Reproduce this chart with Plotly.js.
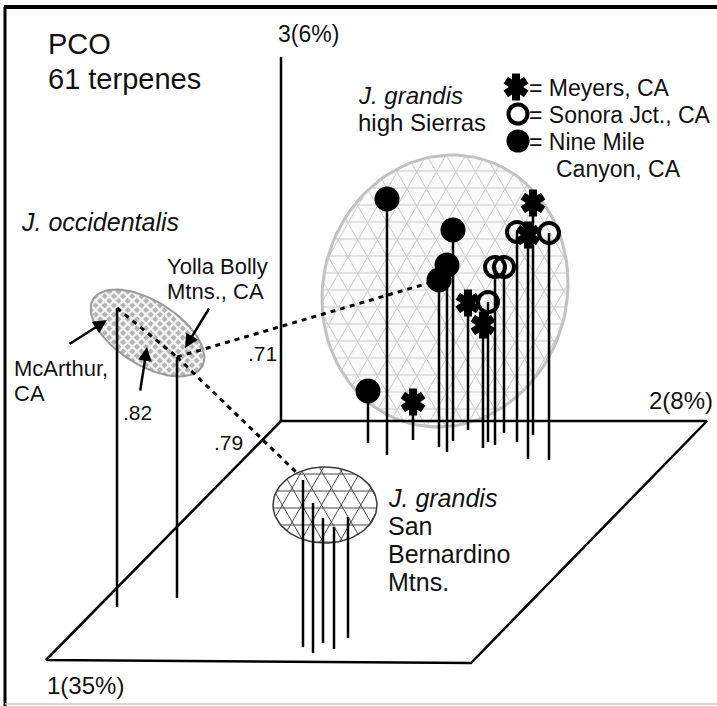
<!DOCTYPE html>
<html><head><meta charset="utf-8">
<script src="https://cdn.plot.ly/plotly-3.0.1.min.js"></script>
<style>html,body{margin:0;padding:0;background:#fff;}#chart{width:717px;height:706px;}</style>
</head><body><div id="chart"></div>
<script>
// ---------- DATA (projected positions of PCO scores) ----------
// J. grandis, high Sierras
const nineMileX    = [387, 453, 447, 439, 368];
const nineMileTop  = [199, 230, 265, 280, 391];
const nineMileBase = [455, 441, 452, 447, 443];
const meyersX      = [413, 468, 483, 533, 528];
const meyersTop    = [402, 303, 325, 203, 235];
const meyersBase   = [440, 430, 448, 435, 459];
const sonoraX      = [488, 495, 504, 517, 549];
const sonoraTop    = [302, 267, 267, 232, 233];
const sonoraBase   = [442, 445, 433, 442, 460];
// J. occidentalis (McArthur, Yolla Bolly)
const occX    = [117, 177];
const occTop  = [308, 357];
const occBase = [607, 598];
// J. grandis, San Bernardino Mtns.
const sbX    = [303, 313, 323, 334, 348];
const sbTop  = [480, 503, 518, 527, 517];
const sbBase = [647, 653, 643, 649, 638];
// similarity links between groups
const linkLabels = ['.82', '.71', '.79'];
const linkX0 = [117, 177, 177];
const linkY0 = [308, 357, 357];
const linkX1 = [177, 439, 296];
const linkY1 = [357, 280, 472];
// axis labels
const axisLabels = ['1(35%)', '2(8%)', '3(6%)'];
const legendLabels = ['= Meyers, CA', '= Sonora Jct., CA', '= Nine Mile', 'Canyon, CA'];

// ---------- helpers ----------
const FONT = 'Liberation Sans, Arial, Helvetica, sans-serif';
function ellPts(cx, cy, a, b, rotDeg) {
  const r = rotDeg * Math.PI / 180, cr = Math.cos(r), sr = Math.sin(r);
  const xs = [], ys = [];
  for (let i = 0; i <= 96; i++) {
    const p = i / 96 * 2 * Math.PI;
    const u = a * Math.cos(p), v = b * Math.sin(p);
    xs.push(cx + u * cr - v * sr); ys.push(cy + u * sr + v * cr);
  }
  return {xs, ys};
}
function chords(cx, cy, a, b, rotDeg, spacing, angles, offset) {
  const r = rotDeg * Math.PI / 180, cr = Math.cos(r), sr = Math.sin(r);
  const xs = [], ys = [];
  const R = Math.max(a, b) + spacing;
  angles.forEach(angDeg => {
    const t = angDeg * Math.PI / 180;
    const ux = Math.cos(t), uy = Math.sin(t);
    const nx = -uy, ny = ux;
    for (let d = -R + (offset || 0); d <= R; d += spacing) {
      const px = cx + nx * d, py = cy + ny * d;
      const lx0 = ((px - cx) * cr + (py - cy) * sr) / a, ly0 = (-(px - cx) * sr + (py - cy) * cr) / b;
      const lux = (ux * cr + uy * sr) / a, luy = (-ux * sr + uy * cr) / b;
      const A = lux * lux + luy * luy, B = 2 * (lx0 * lux + ly0 * luy), C = lx0 * lx0 + ly0 * ly0 - 1;
      const disc = B * B - 4 * A * C;
      if (disc <= 0) continue;
      const s = Math.sqrt(disc);
      const t1 = (-B - s) / (2 * A), t2 = (-B + s) / (2 * A);
      xs.push(px + ux * t1, px + ux * t2, null); ys.push(py + uy * t1, py + uy * t2, null);
    }
  });
  return {xs, ys};
}
function sticks(xArr, topArr, baseArr) {
  const xs = [], ys = [];
  xArr.forEach((x, i) => { xs.push(x, x, null); ys.push(topArr[i], baseArr[i], null); });
  return {xs, ys};
}
function line(xs, ys, color, width, dash) {
  return {type: 'scatter', mode: 'lines', x: xs, y: ys, hoverinfo: 'skip',
          line: {color: color, width: width, dash: dash || 'solid'}, showlegend: false};
}
function fillT(p, color) {
  return {type: 'scatter', mode: 'lines', x: p.xs, y: p.ys, fill: 'toself', fillcolor: color,
          line: {width: 0, color: color}, hoverinfo: 'skip', showlegend: false};
}

const traces = [];
// high Sierras ellipse
const hsE = ellPts(445, 291, 137, 122, -75);
traces.push(fillT(hsE, '#fafafa'));
const hsM = chords(445, 291, 137, 122, -75, 17, [0, 60, 120]);
traces.push(line(hsM.xs, hsM.ys, '#cbcbcb', 1));
traces.push(line(hsE.xs, hsE.ys, '#c2c2c2', 3));
// occidentalis ellipse
const ocE = ellPts(147.5, 333, 64, 32, 32);
traces.push(fillT(ocE, '#b5b5b5'));
const ocM = chords(147.5, 333, 64, 32, 32, 6.5, [45, 135]);
traces.push(line(ocM.xs, ocM.ys, '#f4f4f4', 2.2));
traces.push(line(ocE.xs, ocE.ys, '#9a9a9a', 2));
// San Bernardino ellipse
const sbE = ellPts(325, 505, 52, 38, 0);
traces.push(fillT(sbE, '#ffffff'));
const sbM = chords(325, 505, 52, 38, 0, 17, [0, 60, 120], 4);
traces.push(line(sbM.xs, sbM.ys, '#4a4a4a', 1));
traces.push(line(sbE.xs, sbE.ys, '#3a3a3a', 1.5));

// floor parallelogram and vertical axis
traces.push(line([281, 707, 471, 46, 281], [421, 421, 663, 660, 421], '#000', 2.5));
traces.push(line([281, 281], [57, 421], '#000', 2.5));

// sticks
[[nineMileX, nineMileTop, nineMileBase], [meyersX, meyersTop, meyersBase],
 [sonoraX, sonoraTop, sonoraBase], [occX, occTop, occBase], [sbX, sbTop, sbBase]].forEach(g => {
  const s = sticks(g[0], g[1], g[2]);
  traces.push(line(s.xs, s.ys, '#000', 2.5));
});

// similarity links (dashed)
linkX0.forEach((x0, i) => {
  traces.push(line([x0, linkX1[i]], [linkY0[i], linkY1[i]], '#000', 3, '5px,5px'));
});

// markers
function starTraces(xs, ys, sz) {
  return ['y-up', 'y-down'].map(sym => ({type: 'scatter', mode: 'markers', x: xs, y: ys, hoverinfo: 'skip', showlegend: false,
    marker: {symbol: sym, size: sz, color: '#000', line: {color: '#000', width: 8}}}));
}
starTraces(meyersX, meyersTop, 17).forEach(t => traces.push(t));
traces.push({type: 'scatter', mode: 'markers', x: sonoraX, y: sonoraTop, hoverinfo: 'skip', showlegend: false,
  marker: {symbol: 'circle-open', size: 20, color: '#000', line: {color: '#000', width: 4}}});
traces.push({type: 'scatter', mode: 'markers', x: nineMileX, y: nineMileTop, hoverinfo: 'skip', showlegend: false,
  marker: {symbol: 'circle', size: 25, color: '#000', line: {width: 0}}});

// legend symbols
starTraces([516], [87], 17).forEach(t => traces.push(t));
traces.push({type: 'scatter', mode: 'markers', x: [518], y: [114], hoverinfo: 'skip', showlegend: false,
  marker: {symbol: 'circle-open', size: 19, color: '#000', line: {color: '#000', width: 4}}});
traces.push({type: 'scatter', mode: 'markers', x: [518], y: [141], hoverinfo: 'skip', showlegend: false,
  marker: {symbol: 'circle', size: 23, color: '#000', line: {width: 0}}});

// frame
traces.push(line([5, 5], [706, 7], '#000', 3));
traces.push(line([4, 717], [7, 7], '#000', 4));
traces.push(line([5, 717], [704, 704], '#c8c8c8', 1.5));

// ---------- text ----------
function txt(x, y, text, size, extra) {
  return Object.assign({x: x, y: y, xref: 'x', yref: 'y', text: text, showarrow: false,
    xanchor: 'left', yanchor: 'middle', font: {family: FONT, size: size, color: '#111'}}, extra || {});
}
function arrow(x, y, ax, ay) {
  return {x: x, y: y, ax: ax, ay: ay, xref: 'x', yref: 'y', axref: 'x', ayref: 'y', text: '',
    showarrow: true, arrowhead: 2, arrowsize: 1.1, arrowwidth: 2.5, arrowcolor: '#000', standoff: 0};
}
const ann = [
  txt(46, 44, 'PCO', 29),
  txt(46, 79, '61 terpenes', 29),
  txt(276, 34, axisLabels[2], 23),
  txt(715, 400, axisLabels[1], 24, {xanchor: 'right'}),
  txt(45, 685, axisLabels[0], 24),
  txt(356, 95, '<i>J. grandis</i>', 24),
  txt(356, 122, 'high Sierras', 24),
  txt(527, 88, legendLabels[0], 23),
  txt(527, 115, legendLabels[1], 23),
  txt(527, 142, legendLabels[2], 23),
  txt(554, 169, legendLabels[3], 23),
  txt(19, 222, '<i>J. occidentalis</i>', 25),
  txt(165, 266, 'Yolla Bolly', 22),
  txt(165, 291, 'Mtns., CA', 22),
  txt(12, 368, 'McArthur,', 22),
  txt(12, 393, 'CA', 22),
  txt(121, 412, linkLabels[0], 21),
  txt(246, 353, linkLabels[1], 21),
  txt(212, 442, linkLabels[2], 21),
  txt(386, 498, '<i>J. grandis</i>', 25),
  txt(386, 526, 'San', 25),
  txt(386, 554, 'Bernardino', 25),
  txt(386, 582, 'Mtns.', 25),
  arrow(107, 320, 68, 345),
  arrow(147, 347, 140, 392),
  arrow(185, 348, 210, 307)
];

const layout = {
  width: 717, height: 706, margin: {l: 0, r: 0, t: 0, b: 0, pad: 0},
  paper_bgcolor: '#fff', plot_bgcolor: '#fff', showlegend: false,
  xaxis: {range: [0, 717], visible: false, fixedrange: true},
  yaxis: {range: [706, 0], visible: false, fixedrange: true},
  annotations: ann
};
Plotly.newPlot('chart', traces, layout, {staticPlot: true, displayModeBar: false});
</script>
</body></html>
